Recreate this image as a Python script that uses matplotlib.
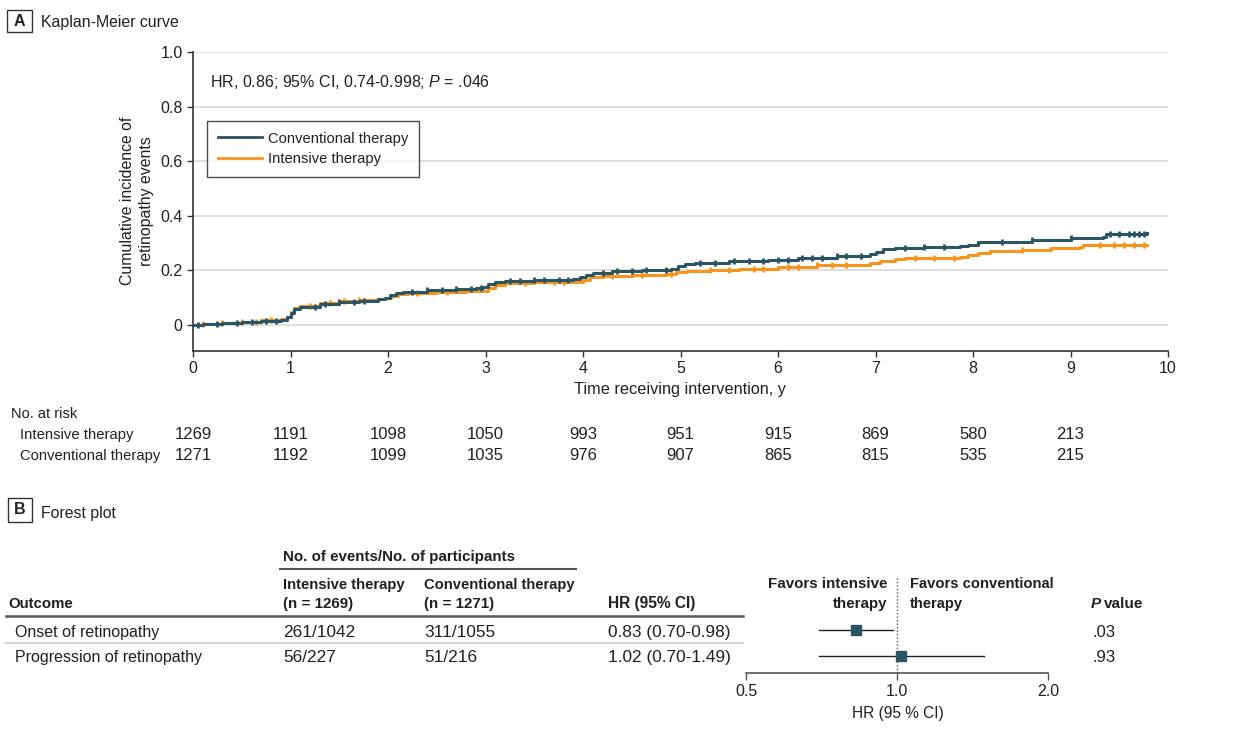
import numpy as np
import matplotlib
matplotlib.use("Agg")
import matplotlib.pyplot as plt
import matplotlib.patches as mpatches
import matplotlib.lines as mlines
import matplotlib.transforms as mtransforms
from matplotlib.ticker import FixedLocator, FixedFormatter, NullLocator

# ---------------- data ----------------
conv_t = [0.0, 0.1, 0.3, 0.5, 0.7, 0.9, 0.96, 1.0, 1.04, 1.1, 1.3, 1.5, 1.7, 1.9, 1.97,
          2.02, 2.08, 2.15, 2.4, 2.7, 2.9, 2.97, 3.03, 3.1, 3.2, 3.5, 3.9, 3.97, 4.03, 4.1,
          4.3, 4.6, 4.9, 4.97, 5.05, 5.15, 5.5, 5.9, 6.2, 6.6, 6.94, 7.0, 7.08, 7.2, 7.5,
          7.87, 7.95, 8.05, 8.2, 8.6, 9.0, 9.33, 9.36, 9.78]
conv_ci = [0.000, 0.003, 0.007, 0.011, 0.015, 0.020, 0.030, 0.045, 0.058, 0.066, 0.077,
           0.083, 0.089, 0.094, 0.100, 0.110, 0.118, 0.122, 0.127, 0.131, 0.135, 0.140,
           0.150, 0.158, 0.162, 0.164, 0.167, 0.175, 0.185, 0.190, 0.197, 0.202, 0.207,
           0.215, 0.224, 0.228, 0.235, 0.240, 0.247, 0.253, 0.259, 0.268, 0.277, 0.282,
           0.285, 0.288, 0.295, 0.303, 0.306, 0.312, 0.318, 0.323, 0.334, 0.336]
int_t = [0.0, 0.1, 0.3, 0.5, 0.7, 0.9, 0.96, 1.0, 1.04, 1.1, 1.3, 1.5, 1.7, 1.9, 1.97,
         2.03, 2.1, 2.2, 2.5, 2.8, 2.95, 3.03, 3.1, 3.2, 3.5, 3.9, 4.0, 4.07, 4.2, 4.5,
         4.85, 4.95, 5.07, 5.3, 5.6, 6.0, 6.4, 6.94, 7.05, 7.2, 7.3, 7.6, 7.87, 7.95,
         8.05, 8.17, 8.5, 8.8, 9.1, 9.13, 9.78]
int_ci = [0.000, 0.004, 0.008, 0.013, 0.017, 0.021, 0.030, 0.048, 0.062, 0.070, 0.080,
          0.087, 0.091, 0.094, 0.098, 0.106, 0.113, 0.116, 0.120, 0.123, 0.125, 0.135,
          0.148, 0.155, 0.156, 0.158, 0.165, 0.175, 0.178, 0.183, 0.188, 0.193, 0.199,
          0.203, 0.207, 0.214, 0.220, 0.228, 0.234, 0.241, 0.244, 0.247, 0.250, 0.257,
          0.265, 0.270, 0.276, 0.282, 0.287, 0.293, 0.293]
conv_censor = [0.05, 0.25, 0.45, 0.6, 0.75, 0.85, 1.25, 1.35, 1.5, 1.65, 1.75, 2.25, 2.4,
               2.55, 2.7, 2.85, 2.95, 3.25, 3.35, 3.5, 3.6, 3.75, 3.85, 4.2, 4.35, 4.5,
               4.65, 4.85, 5.2, 5.35, 5.55, 5.7, 5.85, 6.0, 6.1, 6.25, 6.35, 6.45, 6.6,
               6.7, 6.85, 7.3, 7.5, 7.7, 8.3, 8.6, 9.0, 9.4, 9.5, 9.6, 9.65, 9.7, 9.75]
int_censor = [0.1, 0.3, 0.5, 0.65, 0.8, 1.2, 1.4, 1.55, 1.7, 2.3, 2.6, 3.4, 3.7, 3.8, 4.3,
              4.6, 4.9, 5.3, 5.5, 5.75, 5.85, 6.1, 6.2, 6.4, 6.55, 6.7, 7.4, 7.6, 7.8, 8.5,
              9.3, 9.45, 9.55, 9.65, 9.75]

risk_times = [0, 1, 2, 3, 4, 5, 6, 7, 8, 9]
risk_int = [1269, 1191, 1098, 1050, 993, 951, 915, 869, 580, 213]
risk_conv = [1271, 1192, 1099, 1035, 976, 907, 865, 815, 535, 215]

outcomes = ["Onset of retinopathy", "Progression of retinopathy"]
events_int = ["261/1042", "56/227"]
events_conv = ["311/1055", "51/216"]
hr = [0.83, 1.02]
hr_lo = [0.70, 0.70]
hr_hi = [0.98, 1.49]
hr_text = ["0.83 (0.70-0.98)", "1.02 (0.70-1.49)"]
pvals = [".03", ".93"]

# ---------------- style ----------------
plt.rcParams['font.family'] = ['Liberation Sans', 'DejaVu Sans']
plt.rcParams['mathtext.fontset'] = 'custom'
plt.rcParams['mathtext.rm'] = 'Liberation Sans'
plt.rcParams['mathtext.it'] = 'Liberation Sans:italic'
plt.rcParams['mathtext.bf'] = 'Liberation Sans:bold'

TXT = '#231f20'
TEAL = '#2b5562'
ORANGE = '#f7941d'
AXC = '#333333'
FS = 10.7

W, H = 1260, 735
fig = plt.figure(figsize=(W / 100, H / 100), dpi=100)


def fx(px):
    return px / W


def fy(py):
    return 1 - py / H


def T(x, y, s, **kw):
    kw.setdefault('fontsize', FS)
    kw.setdefault('color', TXT)
    kw.setdefault('va', 'baseline')
    return fig.text(fx(x), fy(y), s, **kw)


def panel_box(x0, y0, x1, y1, letter):
    r = mpatches.Rectangle((fx(x0), fy(y1)), fx(x1) - fx(x0), fy(y0) - fy(y1),
                           transform=fig.transFigure, fill=False, edgecolor=AXC, lw=1.0)
    fig.add_artist(r)
    fig.text(fx((x0 + x1) / 2), fy((y0 + y1) / 2), letter, ha='center', va='center',
             fontsize=11.5, fontweight='bold', color=TXT)


# ---------------- Panel A ----------------
panel_box(7, 10, 32, 32, 'A')
T(41, 27, 'Kaplan-Meier curve', fontsize=11.4)

ax = fig.add_axes([fx(193), fy(351), fx(1168) - fx(193), fy(52) - fy(351)])
ax.set_xlim(0, 10)
ax.set_ylim(-0.095, 1.0)
for s in ['top', 'right']:
    ax.spines[s].set_visible(False)
for s in ['left', 'bottom']:
    ax.spines[s].set_color(AXC)
    ax.spines[s].set_linewidth(1.2)
ax.set_xticks(range(0, 11))
ax.set_yticks([0, 0.2, 0.4, 0.6, 0.8, 1.0])
ax.set_yticklabels(['0', '0.2', '0.4', '0.6', '0.8', '1.0'])
ax.tick_params(axis='both', direction='out', length=4.5, width=1.0, color=AXC,
               labelsize=11.5, labelcolor=TXT, pad=3)
for yv in [0, 0.2, 0.4, 0.6, 0.8, 1.0]:
    ax.axhline(yv, color='#dcdcdc', lw=1.3, zorder=0)

ax.step(int_t, int_ci, where='post', color=ORANGE, lw=2.2, zorder=2)
ax.step(conv_t, conv_ci, where='post', color=TEAL, lw=2.2, zorder=3)


def censor_y(ts, cs, censor):
    ts = np.asarray(ts)
    cs = np.asarray(cs)
    idx = np.searchsorted(ts, censor, side='right') - 1
    return cs[idx]


ax.plot(int_censor, censor_y(int_t, int_ci, int_censor), ls='none', marker='|',
        ms=4.5, mew=2, color=ORANGE, zorder=2)
ax.plot(conv_censor, censor_y(conv_t, conv_ci, conv_censor), ls='none', marker='|',
        ms=4.5, mew=2, color=TEAL, zorder=3)

T(210, 87, r'HR, 0.86; 95% CI, 0.74-0.998; $P$ = .046', fontsize=11.5)

# legend
h1 = mlines.Line2D([], [], color=TEAL, lw=2)
h2 = mlines.Line2D([], [], color=ORANGE, lw=2)
leg = ax.legend([h1, h2], ['Conventional therapy', 'Intensive therapy'],
                loc='upper left', bbox_to_anchor=(fx(207), fy(121)),
                bbox_transform=fig.transFigure, frameon=True, fancybox=False,
                edgecolor='#222222', fontsize=10.6, handlelength=3.0, handletextpad=0.45,
                labelspacing=0.45, borderpad=0.72, borderaxespad=0)
leg.get_frame().set_linewidth(1.0)
for t in leg.get_texts():
    t.set_color(TXT)

fig.text(fx(137), fy(201), 'Cumulative incidence of\nretinopathy events', rotation=90,
         ha='center', va='center', fontsize=11.4, color=TXT, linespacing=1.25)
T(680, 394, 'Time receiving intervention, y', ha='center', fontsize=11.7)

# risk table
bt = mtransforms.blended_transform_factory(ax.transData, fig.transFigure)
T(11, 418, 'No. at risk', fontsize=10.5)
T(20, 439, 'Intensive therapy', fontsize=10.7)
T(20, 460, 'Conventional therapy', fontsize=10.6)
for tt, a, b in zip(risk_times, risk_int, risk_conv):
    ax.text(tt, fy(439), str(a), transform=bt, ha='center', va='baseline', fontsize=12,
            color=TXT, clip_on=False)
    ax.text(tt, fy(460), str(b), transform=bt, ha='center', va='baseline', fontsize=12,
            color=TXT, clip_on=False)

# ---------------- Panel B ----------------
panel_box(8, 498, 32, 522, 'B')
T(41, 518, 'Forest plot', fontsize=11.4)

T(283, 561, 'No. of events/No. of participants', fontweight='bold', fontsize=10.9)
fig.add_artist(mlines.Line2D([fx(280), fx(576)], [fy(569), fy(569)], color='#555555',
                             lw=1.5, transform=fig.transFigure))
T(283, 589, 'Intensive therapy', fontweight='bold')
T(283, 608, '(n = 1269)', fontweight='bold', fontsize=10.9)
T(424, 589, 'Conventional therapy', fontweight='bold', fontsize=10.6)
T(424, 608, '(n = 1271)', fontweight='bold', fontsize=10.9)
T(8, 608, 'Outcome', fontweight='bold', fontsize=10.8)
T(608, 608, 'HR (95% CI)', fontweight='bold', fontsize=11.2)
fig.add_artist(mlines.Line2D([fx(6), fx(743)], [fy(616), fy(616)], color='#555555',
                             lw=1.8, transform=fig.transFigure))
fig.add_artist(mlines.Line2D([fx(6), fx(743)], [fy(643), fy(643)], color='#d5d5d5',
                             lw=1.5, transform=fig.transFigure))

row_base = [637, 662]
for i in range(2):
    T(15, row_base[i], outcomes[i], fontsize=11.5)
    T(283, row_base[i], events_int[i], fontsize=12.4)
    T(424, row_base[i], events_conv[i], fontsize=12.4)
    T(608, row_base[i], hr_text[i], fontsize=12.4)
    T(1092, row_base[i], pvals[i], fontsize=12)

T(887, 588, 'Favors intensive', ha='right', fontweight='bold', fontsize=10.9)
T(887, 608, 'therapy', ha='right', fontweight='bold', fontsize=10.9)
T(910, 588, 'Favors conventional', fontweight='bold', fontsize=10.6)
T(910, 608, 'therapy', fontweight='bold', fontsize=10.6)
ptxt = T(1091, 608, 'P', fontweight='bold', fontstyle='italic', fontsize=11)
fig.canvas.draw()
pext = ptxt.get_window_extent()
T(pext.x1 + 3, 608, 'value', fontweight='bold', fontsize=11)

fax = fig.add_axes([fx(746), fy(673), fx(1048) - fx(746), fy(577) - fy(673)])
fax.set_xscale('log', base=2)
fax.set_xlim(0.5, 2.0)
fax.set_ylim(1 + (673 - 656) / 26, 0 - (630 - 577) / 26)
for s in ['top', 'right', 'left']:
    fax.spines[s].set_visible(False)
fax.spines['bottom'].set_color('#555555')
fax.spines['bottom'].set_linewidth(1.2)
fax.patch.set_alpha(0)
fax.xaxis.set_major_locator(FixedLocator([0.5, 1.0, 2.0]))
fax.xaxis.set_major_formatter(FixedFormatter(['0.5', '1.0', '2.0']))
fax.xaxis.set_minor_locator(NullLocator())
fax.yaxis.set_major_locator(NullLocator())
fax.tick_params(axis='x', direction='out', length=5, width=1.0, color='#555555',
                labelsize=11.5, labelcolor=TXT, pad=3)
fax.axvline(1.0, color='#555555', lw=1.0, ls=(0, (1, 1.5)), zorder=1)
for i in range(2):
    fax.plot([hr_lo[i], hr_hi[i]], [i, i], color='#222222', lw=1.0, zorder=2)
    fax.plot([hr[i]], [i], marker='s', ms=7, color=TEAL, zorder=3, ls='none')
T(898, 718, 'HR (95 % CI)', ha='center', fontsize=11.2)

fig.savefig('out.png', dpi=100)
